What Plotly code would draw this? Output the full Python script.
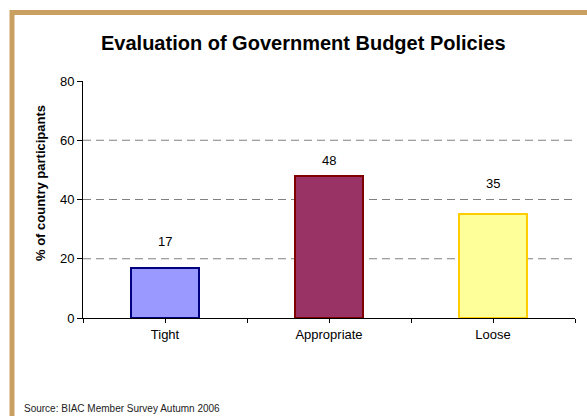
import plotly.graph_objects as go

# Survey results
categories = ["Tight", "Appropriate", "Loose"]
values = [17, 48, 35]
y_ticks = [0, 20, 40, 60, 80]
grid_levels = [20, 40, 60]

fill_colors = ["#9999FF", "#993366", "#FFFF99"]
edge_colors = ["#000080", "#800000", "#FFCC00"]
label_lift = [26, 15, 31]  # pixel offset of each value label above its bar

W, H = 587, 416
ML, MR, MT, MB = 83, 12, 81, 98
PW = W - ML - MR
PH = H - MT - MB


def px_x(px):
    return (px - ML) / PW


def px_y(py):
    return (H - MB - py) / PH


FONT = "Liberation Sans, Arial, sans-serif"
positions = list(range(len(categories)))

fig = go.Figure(
    go.Bar(
        x=positions,
        y=values,
        width=0.41,
        marker=dict(color=fill_colors, line=dict(color=edge_colors, width=2)),
        hoverinfo="x+y",
    )
)

# dashed horizontal gridlines
for g in grid_levels:
    fig.add_shape(
        type="line", xref="paper", yref="y", x0=0, x1=1, y0=g, y1=g,
        line=dict(color="#808080", width=1, dash="8px,5px"), layer="below",
    )

# gold frame around the chart
fig.add_shape(
    type="rect", xref="paper", yref="paper",
    x0=px_x(12), x1=px_x(700), y0=px_y(12.5), y1=px_y(600),
    line=dict(color="#C9A062", width=5), fillcolor="rgba(0,0,0,0)", layer="above",
)

# value labels
for p, v, lift in zip(positions, values, label_lift):
    fig.add_annotation(
        x=p, y=v, text=str(v), showarrow=False, yanchor="middle", yshift=lift,
        font=dict(family=FONT, size=13, color="#000000"),
    )

fig.add_annotation(
    x=px_x(303), y=px_y(43), xref="paper", yref="paper",
    text="<b>Evaluation of Government Budget Policies</b>", showarrow=False,
    xanchor="center", yanchor="middle",
    font=dict(family=FONT, size=20, color="#000000"),
)
fig.add_annotation(
    x=px_x(40), y=px_y(183), xref="paper", yref="paper",
    text="<b>% of country participants</b>", showarrow=False, textangle=-90,
    xanchor="center", yanchor="middle",
    font=dict(family=FONT, size=13, color="#000000"),
)
fig.add_annotation(
    x=px_x(22), y=px_y(408), xref="paper", yref="paper",
    text="Source: BIAC Member Survey Autumn 2006", showarrow=False,
    xanchor="left", yanchor="middle",
    font=dict(family=FONT, size=10, color="#222222"),
)

fig.update_layout(
    width=W, height=H,
    margin=dict(l=ML, r=MR, t=MT, b=MB, pad=0),
    paper_bgcolor="white", plot_bgcolor="white",
    showlegend=False,
    font=dict(family=FONT, size=13, color="#000000"),
    bargap=0,
)
fig.update_xaxes(
    range=[-0.5, 2.5], tickmode="array", tickvals=positions, ticktext=categories,
    showgrid=False, zeroline=False, showline=True, linecolor="#000000", linewidth=1,
    ticks="outside", ticklen=4, tickcolor="#000000",
    minor=dict(tickmode="linear", tick0=-0.5, dtick=1, ticks="outside", ticklen=4,
               tickcolor="#000000", showgrid=False),
    tickfont=dict(family=FONT, size=13, color="#000000"),
)
fig.update_yaxes(
    range=[0, 80], tickmode="array", tickvals=y_ticks,
    showgrid=False, zeroline=False, showline=True, linecolor="#000000", linewidth=1,
    ticks="outside", ticklen=5, tickcolor="#000000",
    tickfont=dict(family=FONT, size=13, color="#000000"),
)

fig.write_html("out.html")
